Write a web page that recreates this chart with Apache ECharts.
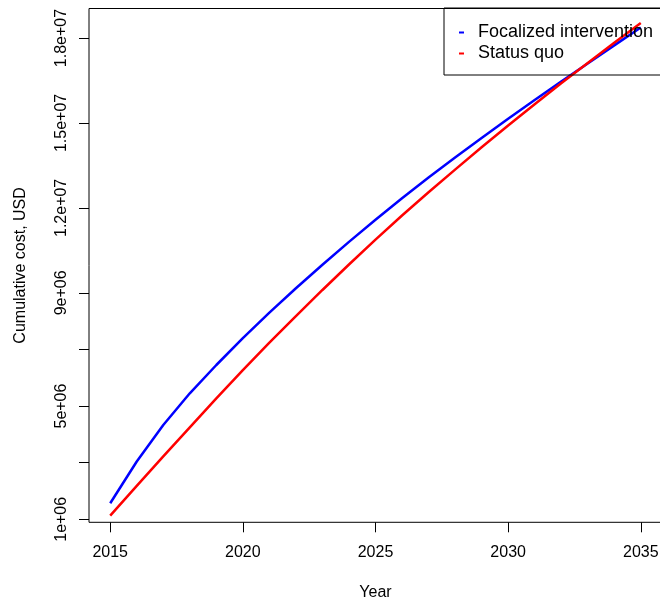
<!DOCTYPE html>
<html>
<head>
<meta charset="utf-8">
<script src="https://cdn.jsdelivr.net/npm/echarts@6/dist/echarts.min.js"></script>
<style>
html,body{margin:0;padding:0;background:#fff;}
#chart{width:660px;height:603px;}
</style>
</head>
<body>
<div id="chart"></div>
<script>
var years = [2015,2016,2017,2018,2019,2020,2021,2022,2023,2024,2025,2026,2027,2028,2029,2030,2031,2032,2033,2034,2035];
var focalized = [1.566e6,3.04e6,4.33e6,5.45e6,6.45e6,7.40e6,8.30e6,9.16e6,9.99e6,10.80e6,11.58e6,12.34e6,13.07e6,13.78e6,14.47e6,15.15e6,15.81e6,16.46e6,17.10e6,17.74e6,18.37e6];
var statusQuo = [1.13e6,2.18e6,3.22e6,4.25e6,5.27e6,6.27e6,7.24e6,8.18e6,9.10e6,10.00e6,10.88e6,11.73e6,12.55e6,13.35e6,14.14e6,14.91e6,15.66e6,16.40e6,17.12e6,17.83e6,18.53e6];
var xTicks = [2015,2020,2025,2030,2035];
var yTicks = [1e6,3e6,5e6,7e6,9e6,12e6,15e6,18e6];
var yLabels = [1e6,5e6,9e6,12e6,15e6,18e6];
var seriesNames = ['Focalized intervention','Status quo'];

function sci(v){
  var s = Number(v).toExponential();
  return s.replace(/e([+-])(\d+)$/, function(m, sg, d){ return 'e' + sg + (d.length < 2 ? '0' + d : d); });
}
function pairs(xs, ys){ return xs.map(function(x,i){ return [x, ys[i]]; }); }

var FONT = 'Liberation Sans, Arial, Helvetica, sans-serif';
var chart = echarts.init(document.getElementById('chart'), null, {renderer:'canvas'});
chart.setOption({
  animation: false,
  backgroundColor: '#ffffff',
  textStyle: {fontFamily: FONT, color: '#000'},
  grid: {left: 89, top: 8.5, right: -2, bottom: 80.7, show: true, borderColor: '#000', borderWidth: 1, containLabel: false, outerBoundsMode: 'none'},
  legend: {
    left: 444, top: 8, orient: 'vertical',
    padding: [14, 30, 11, 15],
    borderColor: '#000', borderWidth: 1,
    itemGap: 0, icon: 'rect', itemWidth: 5, itemHeight: 2,
    textStyle: {fontFamily: FONT, fontSize: 18, color: '#000', lineHeight: 21, padding: [0,0,0,9]},
    data: seriesNames
  },
  xAxis: {
    type: 'value', min: 2014.2, max: 2035.8,
    name: 'Year', nameLocation: 'middle', nameGap: 62,
    nameTextStyle: {fontFamily: FONT, fontSize: 16, color: '#000'},
    axisLine: {show: false},
    axisTick: {show: true, length: 10, customValues: xTicks, lineStyle: {color: '#000'}},
    axisLabel: {customValues: xTicks, margin: 22, fontFamily: FONT, fontSize: 16, color: '#000', formatter: function(v){ return String(v); }},
    splitLine: {show: false}
  },
  yAxis: {
    type: 'value', min: 0.894e6, max: 19.042e6,
    name: 'Cumulative cost, USD', nameLocation: 'middle', nameGap: 60, nameRotate: 90,
    nameTextStyle: {fontFamily: FONT, fontSize: 16, color: '#000'},
    axisLine: {show: false},
    axisTick: {show: true, length: 10, customValues: yTicks, lineStyle: {color: '#000'}},
    axisLabel: {customValues: yLabels, rotate: 90, margin: 19, fontFamily: FONT, fontSize: 16, color: '#000', formatter: sci},
    splitLine: {show: false}
  },
  series: [
    {name: seriesNames[0], type: 'line', data: pairs(years, focalized), showSymbol: false, color: '#0000ff', lineStyle: {color: '#0000ff', width: 2.5}},
    {name: seriesNames[1], type: 'line', data: pairs(years, statusQuo), showSymbol: false, color: '#ff0000', lineStyle: {color: '#ff0000', width: 2.5}}
  ]
});
</script>
</body>
</html>
